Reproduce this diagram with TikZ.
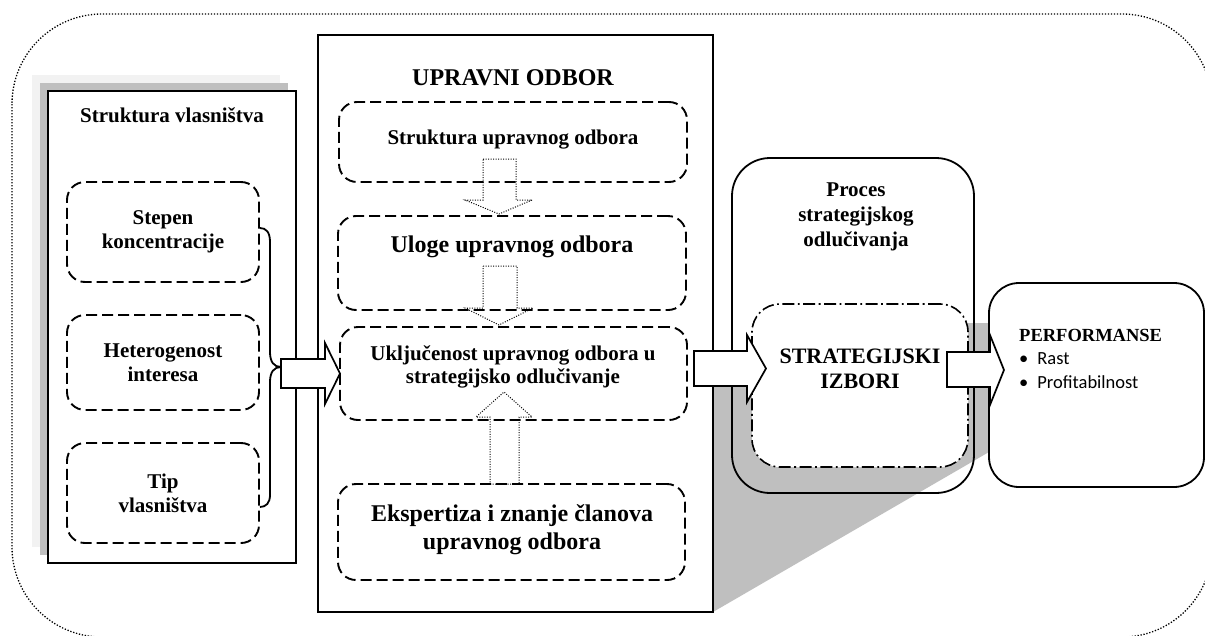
\documentclass[tikz,border=0pt]{standalone}
\usepackage{fontspec}
\setmainfont{Liberation Serif}
\newfontfamily\calfont{Carlito}
\newcommand\fsz[2]{\fontsize{#1}{#2}\selectfont\bfseries}
\begin{document}
\begin{tikzpicture}[x=1pt,y=-1pt,
  solidbox/.style={draw=black, line width=1.9pt, fill=white, inner sep=0pt},
  dbox/.style={draw=black, dash pattern=on 11pt off 5pt, line width=1.9pt, rounded corners=18pt, fill=white, inner sep=0pt, align=center},
  rbox/.style={draw=black, line width=1.8pt, inner sep=0pt},
  ddbox/.style={draw=black, dash pattern=on 12pt off 3.5pt on 1.8pt off 3.5pt, line width=1.6pt, rounded corners=28pt, fill=white, inner sep=0pt},
  blockarrow/.style={draw=black, line width=1.7pt, fill=white, line join=miter},
  dotarrow/.style={draw=black, line width=1pt, dash pattern=on 1pt off 1.5pt},
  outerline/.style={draw=black, line width=1.3pt, dash pattern=on 1.3pt off 1.7pt},
  txt/.style={align=center, inner sep=0pt}
]
\useasboundingbox (0,0) rectangle (1205,635);
\clip (0,0) rectangle (1205,635);
\fill[white] (0,0) rectangle (1205,635);

% outer dotted frame
\draw[outerline, rounded corners=90pt] (12,14) rectangle (1212,637);

% left box with layered shadows
\fill[gray!10] (32,75) rectangle (280,547);
\fill[gray!50] (40,83) rectangle (288,555);
\node[solidbox, minimum width=248pt, minimum height=472pt] (own) at (172,327) {};
\node[txt, font=\fsz{21}{24}] (ownt) at (172,115) {Struktura vlasništva};

\node[dbox, minimum width=192pt, minimum height=100pt, font=\fsz{21}{24}] (stepen) at (163,232) {Stepen\\koncentracije};
\node[dbox, minimum width=192pt, minimum height=95pt, font=\fsz{21}{24}] (hetero) at (163,362.5) {Heterogenost\\interesa};
\node[dbox, minimum width=192pt, minimum height=100pt, font=\fsz{21}{24}] (tip) at (163,493) {Tip\\vlasništva};

% brace
\coordinate (btip) at (281,367);
\draw[line width=1.8pt] (stepen.east |- 0,228) .. controls (266,228) and (270,232) .. (270,242)
  -- (270,352) .. controls (270,362) and (274,367) .. (btip)
  .. controls (274,367) and (270,372) .. (270,382)
  -- (270,495) .. controls (270,503) and (266,507) .. (tip.east |- 0,507);

% gray perspective shadow
\fill[gray!50] (713,386) -- (752,386) -- (752,323) -- (989,323) -- (989,452) -- (713,612) -- cycle;

% middle box
\node[solidbox, minimum width=395pt, minimum height=577pt] (board) at (515.5,323.5) {};
\node[txt, font=\fsz{24}{27}] (boardt) at (513,78) {UPRAVNI ODBOR};

\node[dbox, minimum width=348pt, minimum height=80pt] (struk) at (513,142) {};
\node[txt, font=\fsz{21}{24}] at (513,140) {Struktura upravnog odbora};
\node[dbox, minimum width=348pt, minimum height=94pt] (uloge) at (512,263) {};
\node[txt, font=\fsz{24}{27}] at (512,247) {Uloge upravnog odbora};
\node[dbox, minimum width=347pt, minimum height=93pt] (uklj) at (513.5,373.5) {};
\node[txt, font=\fsz{21}{23.5}] at (513,367) {Uključenost upravnog odbora u\\strategijsko odlučivanje};
\node[dbox, minimum width=347pt, minimum height=96pt] (eksp) at (511.5,532) {};
\node[txt, font=\fsz{24}{28}] at (512,530) {Ekspertiza i znanje članova\\upravnog odbora};

% dotted block arrows
\draw[dotarrow] (483,159) -- (516,159) -- (516,200) -- (532,200) -- (499,214) -- (465,200) -- (483,200) -- cycle;
\draw[dotarrow] (483,266) -- (517,266) -- (517,308) -- (533,308) -- (499,325) -- (465,308) -- (483,308) -- cycle;
\draw[dotarrow] (490,484) -- (519,484) -- (519,417) -- (532,417) -- (504,392) -- (476,417) -- (490,417) -- cycle;

% process box
\node[rbox, rounded corners=38pt, minimum width=242pt, minimum height=335pt] (proc) at (853,325.5) {};
\node[txt, font=\fsz{21}{25}] at (856,217) {Proces\\strategijskog\\odlučivanja};
\node[ddbox, minimum width=216pt, minimum height=163pt] (izb) at (860,385.5) {};
\node[txt, font=\fsz{22}{25}] at (860,369) {STRATEGIJSKI\\IZBORI};

% performance box
\node[rbox, rounded corners=30pt, fill=white, minimum width=215pt, minimum height=204pt] (perf) at (1096.5,385) {};
\node[anchor=base west, inner sep=0pt, font=\fsz{18.5}{21}] at (1019,341) {PERFORMANSE};
\node[anchor=base west, inner sep=0pt, font=\calfont\fontsize{18.5}{20}\selectfont] at (1019,364) {•\hspace{9pt}Rast};
\node[anchor=base west, inner sep=0pt, font=\calfont\fontsize{18.5}{20}\selectfont] at (1019,388) {•\hspace{9pt}Profitabilnost};

% block arrows
\draw[blockarrow] (btip |- 0,359) -- (325,359) -- (325,343) -- (340,373.5) -- (325,404) -- (325,388) -- (btip |- 0,388) -- cycle;
\draw[blockarrow] (694,351) -- (747,351) -- (747,335) -- (766,368.5) -- (747,402) -- (747,386) -- (694,386) -- cycle;
\draw[blockarrow] (947,352) -- (990,352) -- (990,335) -- (1004,370) -- (990,405) -- (990,387) -- (947,387) -- cycle;
\end{tikzpicture}
\end{document}
